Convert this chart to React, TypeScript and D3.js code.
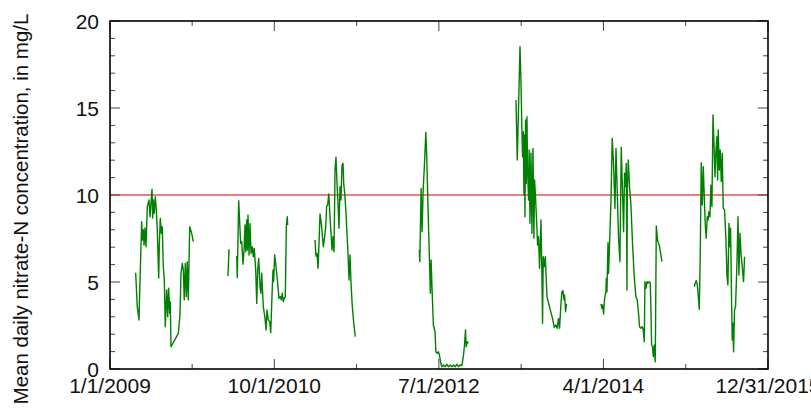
import React from "react";
import * as d3 from "d3";

// Mean daily nitrate-N concentration (mg/L); x = decimal year, y = value
const seg2009: [number, number][] = [
  [2009.273, 5.53], [2009.29, 3.58], [2009.309, 2.82], [2009.312, 3.68], [2009.337, 8.47],
  [2009.344, 7.41], [2009.354, 8.0], [2009.362, 7.13], [2009.372, 8.1], [2009.383, 7.03],
  [2009.397, 9.33], [2009.415, 9.71], [2009.426, 8.75], [2009.436, 9.54], [2009.447, 10.33],
  [2009.454, 8.68], [2009.461, 9.71], [2009.471, 8.95], [2009.482, 9.9], [2009.493, 9.14],
  [2009.503, 8.0], [2009.518, 5.23], [2009.524, 7.03], [2009.535, 8.66], [2009.546, 7.8],
  [2009.556, 8.18], [2009.567, 5.88], [2009.578, 5.11], [2009.588, 2.43], [2009.603, 4.54],
  [2009.614, 3.0], [2009.624, 4.64], [2009.635, 3.2], [2009.641, 3.87], [2009.649, 1.28],
  [2009.727, 2.05], [2009.745, 3.2], [2009.755, 5.5], [2009.769, 6.07], [2009.78, 5.69],
  [2009.79, 3.97], [2009.801, 6.07], [2009.812, 4.16], [2009.822, 6.17], [2009.833, 3.97],
  [2009.848, 8.18], [2009.869, 7.8], [2009.886, 7.32],
];
const seg2010a: [number, number][] = [[2010.255, 5.34], [2010.266, 6.88]];
const seg2010b: [number, number][] = [
  [2010.348, 6.49], [2010.354, 5.25], [2010.369, 9.67], [2010.39, 7.22], [2010.401, 7.32],
  [2010.415, 6.02], [2010.426, 6.84], [2010.436, 8.28], [2010.444, 6.74], [2010.454, 8.56],
  [2010.461, 6.84], [2010.468, 8.85], [2010.479, 6.55], [2010.489, 8.37], [2010.5, 6.65],
  [2010.514, 7.03], [2010.524, 6.45], [2010.535, 6.93], [2010.55, 5.69], [2010.561, 3.77],
  [2010.571, 5.69], [2010.582, 6.36], [2010.596, 4.73], [2010.606, 4.35], [2010.614, 5.5],
  [2010.631, 3.58], [2010.649, 2.91], [2010.66, 2.24], [2010.67, 3.39], [2010.684, 2.82],
  [2010.699, 2.72], [2010.71, 2.09], [2010.723, 4.16], [2010.734, 5.69], [2010.741, 5.02],
  [2010.752, 6.55], [2010.766, 5.88], [2010.784, 4.93], [2010.798, 4.06], [2010.812, 4.16],
  [2010.822, 3.97], [2010.833, 4.35], [2010.844, 3.87], [2010.854, 4.06], [2010.865, 4.16],
  [2010.876, 8.18], [2010.886, 8.75], [2010.89, 8.28],
];
const seg2011: [number, number][] = [
  [2011.181, 7.41], [2011.191, 6.49], [2011.202, 6.65], [2011.213, 5.79], [2011.223, 7.13],
  [2011.234, 8.91], [2011.248, 8.37], [2011.259, 7.7], [2011.269, 7.03], [2011.284, 7.6],
  [2011.295, 8.18], [2011.305, 9.37], [2011.316, 9.43], [2011.327, 10.06], [2011.337, 9.14],
  [2011.351, 7.8], [2011.362, 6.84], [2011.372, 7.6], [2011.383, 6.74], [2011.394, 11.44],
  [2011.404, 12.17], [2011.415, 10.67], [2011.426, 9.52], [2011.436, 8.09], [2011.447, 10.48],
  [2011.457, 9.71], [2011.468, 11.72], [2011.479, 11.82], [2011.486, 10.67], [2011.497, 10.1],
  [2011.511, 8.95], [2011.521, 7.8], [2011.532, 6.65], [2011.543, 5.11], [2011.553, 6.55],
  [2011.564, 4.93], [2011.578, 3.58], [2011.593, 2.63], [2011.61, 1.86],
];
const seg2012: [number, number][] = [
  [2012.29, 6.84], [2012.295, 6.17], [2012.309, 10.38], [2012.319, 7.89], [2012.33, 10.19],
  [2012.344, 11.72], [2012.359, 13.6], [2012.369, 12.11], [2012.386, 8.47], [2012.397, 6.36],
  [2012.407, 4.35], [2012.415, 6.26], [2012.426, 4.44], [2012.439, 2.53], [2012.457, 2.14],
  [2012.465, 0.99], [2012.479, 0.9], [2012.493, 0.99], [2012.503, 0.8], [2012.518, 0.33],
  [2012.529, 0.13], [2012.546, 0.23], [2012.564, 0.13], [2012.582, 0.27], [2012.599, 0.13],
  [2012.617, 0.23], [2012.635, 0.13], [2012.652, 0.23], [2012.67, 0.13], [2012.688, 0.27],
  [2012.705, 0.13], [2012.723, 0.23], [2012.741, 0.19], [2012.759, 0.8], [2012.769, 1.38],
  [2012.78, 2.24], [2012.787, 1.28], [2012.798, 1.57], [2012.809, 1.48],
];
const seg2013: [number, number][] = [
  [2013.316, 15.46], [2013.33, 12.01], [2013.359, 18.52], [2013.369, 16.61], [2013.38, 13.55],
  [2013.386, 12.2], [2013.394, 13.64], [2013.401, 10.0], [2013.407, 13.45], [2013.412, 8.75],
  [2013.418, 14.31], [2013.426, 10.67], [2013.433, 14.5], [2013.439, 11.63], [2013.45, 9.71],
  [2013.457, 12.59], [2013.465, 8.37], [2013.476, 12.4], [2013.486, 7.8], [2013.497, 12.68],
  [2013.507, 7.51], [2013.514, 10.86], [2013.524, 9.9], [2013.539, 8.09], [2013.546, 7.13],
  [2013.556, 7.6], [2013.567, 5.79], [2013.574, 7.03], [2013.582, 8.56], [2013.593, 5.11],
  [2013.599, 2.63], [2013.606, 6.45], [2013.617, 5.88], [2013.628, 6.45], [2013.646, 4.16],
  [2013.681, 3.39], [2013.705, 2.91], [2013.723, 2.39], [2013.741, 2.53], [2013.755, 2.34],
  [2013.769, 2.91], [2013.78, 2.34], [2013.795, 3.77], [2013.805, 4.44], [2013.816, 4.5],
  [2013.827, 3.97], [2013.833, 4.25], [2013.844, 3.29], [2013.854, 3.74],
];
const seg2014: [number, number][] = [
  [2014.22, 3.74], [2014.231, 3.49], [2014.237, 3.68], [2014.248, 3.16], [2014.259, 4.06],
  [2014.273, 4.44], [2014.277, 5.21], [2014.284, 4.44], [2014.295, 7.26], [2014.301, 5.5],
  [2014.312, 7.22], [2014.327, 9.71], [2014.34, 13.26], [2014.354, 11.82], [2014.369, 9.23],
  [2014.38, 12.68], [2014.394, 10.1], [2014.407, 7.6], [2014.422, 6.17], [2014.436, 12.74],
  [2014.45, 10.1], [2014.461, 7.89], [2014.471, 11.25], [2014.482, 10.48], [2014.489, 11.82],
  [2014.497, 4.54], [2014.5, 10.1], [2014.511, 12.01], [2014.524, 10.48], [2014.539, 9.43],
  [2014.556, 7.22], [2014.574, 5.31], [2014.592, 4.16], [2014.606, 3.97], [2014.62, 3.2],
  [2014.631, 2.43], [2014.646, 2.34], [2014.66, 2.43], [2014.67, 2.24], [2014.681, 1.57],
  [2014.688, 5.02], [2014.699, 4.64], [2014.71, 5.02], [2014.72, 4.93], [2014.734, 5.02],
  [2014.745, 4.93], [2014.752, 3.39], [2014.759, 1.38], [2014.769, 1.28], [2014.777, 0.71],
  [2014.787, 1.38], [2014.798, 0.42], [2014.809, 8.22], [2014.822, 7.41], [2014.844, 7.03],
  [2014.869, 6.17],
];
const seg2015: [number, number][] = [
  [2015.213, 4.73], [2015.223, 4.93], [2015.234, 5.08], [2015.245, 4.83], [2015.255, 4.25],
  [2015.266, 3.43], [2015.277, 6.74], [2015.287, 11.86], [2015.298, 9.43], [2015.309, 11.63],
  [2015.319, 9.9], [2015.33, 8.28], [2015.34, 7.51], [2015.351, 8.75], [2015.359, 8.56],
  [2015.369, 9.04], [2015.38, 8.75], [2015.39, 10.57], [2015.401, 9.33], [2015.412, 14.6],
  [2015.422, 13.06], [2015.433, 11.05], [2015.444, 12.59], [2015.454, 13.35], [2015.461, 10.86],
  [2015.468, 13.74], [2015.479, 11.44], [2015.489, 12.59], [2015.5, 10.77], [2015.511, 12.4],
  [2015.521, 9.23], [2015.535, 9.14], [2015.55, 7.41], [2015.561, 5.31], [2015.571, 4.83],
  [2015.582, 8.37], [2015.593, 7.03], [2015.599, 8.09], [2015.61, 3.77], [2015.617, 1.67],
  [2015.624, 2.63], [2015.631, 0.99], [2015.641, 3.39], [2015.652, 3.58], [2015.667, 6.07],
  [2015.678, 8.75], [2015.688, 5.4], [2015.699, 7.8], [2015.71, 6.65], [2015.72, 6.07],
  [2015.737, 5.02], [2015.748, 6.45],
];
const segments = [seg2009, seg2010a, seg2010b, seg2011, seg2012, seg2013, seg2014, seg2015];

const xTickDates = ["2009-01-01", "2010-10-01", "2012-07-01", "2014-04-01", "2015-12-31"];
const xTickLabels = ["1/1/2009", "10/1/2010", "7/1/2012", "4/1/2014", "12/31/2015"];
const yMajorTicks = [0, 5, 10, 15, 20];
const referenceLevel = 10;
const yLabel = "Mean daily nitrate-N concentration, in mg/L";

function decYear(y: number): Date {
  const yr = Math.floor(y);
  const a = Date.UTC(yr, 0, 1);
  const b = Date.UTC(yr + 1, 0, 1);
  return new Date(a + (y - yr) * (b - a));
}

const W = 811, H = 413;
const M = { left: 110, right: 768, top: 21, bottom: 369 };
const FONT = "Liberation Sans, Arial, sans-serif";

export default function App() {
  const majorDates = xTickDates.map((s) => new Date(s + "T00:00:00Z"));
  const x = d3.scaleUtc().domain([majorDates[0], majorDates[majorDates.length - 1]]).range([M.left, M.right]);
  const y = d3.scaleLinear().domain([0, 20]).range([M.bottom, M.top]);
  const minorDates = majorDates.slice(1).map((d, i) => new Date((d.getTime() + majorDates[i].getTime()) / 2));
  const yMinor = d3.range(0, 21, 1).filter((v) => v % 5 !== 0);
  const line = d3.line<[number, number]>().x((d) => x(decYear(d[0]))).y((d) => y(d[1]));
  const tickColor = "#444";
  return (
    <div style={{ position: "absolute", left: 0, top: 0 }}>
      <svg width={W} height={H} style={{ display: "block", background: "#fff" }}>
        <line x1={M.left} x2={M.right} y1={y(referenceLevel)} y2={y(referenceLevel)} stroke="#d80000" strokeWidth={1} />
        {segments.map((s, i) => (
          <path key={i} d={line(s) || ""} fill="none" stroke="#008000" strokeWidth={1.4} strokeLinejoin="round" />
        ))}
        {yMinor.map((v) => (
          <g key={"ym" + v}>
            <line x1={M.left} x2={M.left + 5} y1={y(v)} y2={y(v)} stroke={tickColor} strokeWidth={1} />
            <line x1={M.right} x2={M.right - 5} y1={y(v)} y2={y(v)} stroke={tickColor} strokeWidth={1} />
          </g>
        ))}
        {yMajorTicks.map((v) => (
          <g key={"yM" + v}>
            <line x1={M.left} x2={M.left + 10} y1={y(v)} y2={y(v)} stroke={tickColor} strokeWidth={1} />
            <line x1={M.right} x2={M.right - 10} y1={y(v)} y2={y(v)} stroke={tickColor} strokeWidth={1} />
            <text x={M.left - 11} y={y(v)} dy="0.36em" textAnchor="end" fontFamily={FONT} fontSize={21} fill="#111">
              {v}
            </text>
          </g>
        ))}
        {minorDates.map((d, i) => (
          <g key={"xm" + i}>
            <line x1={x(d)} x2={x(d)} y1={M.bottom} y2={M.bottom - 5} stroke={tickColor} strokeWidth={1} />
            <line x1={x(d)} x2={x(d)} y1={M.top} y2={M.top + 5} stroke={tickColor} strokeWidth={1} />
          </g>
        ))}
        {majorDates.map((d, i) => (
          <g key={"xM" + i}>
            <line x1={x(d)} x2={x(d)} y1={M.bottom} y2={M.bottom - 10} stroke={tickColor} strokeWidth={1} />
            <line x1={x(d)} x2={x(d)} y1={M.top} y2={M.top + 10} stroke={tickColor} strokeWidth={1} />
            <text x={x(d)} y={M.bottom + 24} textAnchor="middle" fontFamily={FONT} fontSize={21} fill="#111">
              {xTickLabels[i]}
            </text>
          </g>
        ))}
        <rect x={M.left} y={M.top} width={M.right - M.left} height={M.bottom - M.top} fill="none" stroke="#000" strokeWidth={1.6} />
        <text
          transform={`translate(${21},${209}) rotate(-90)`}
          textAnchor="middle"
          dy="0.35em"
          fontFamily={FONT}
          fontSize={20.5}
          fill="#111"
        >
          {yLabel}
        </text>
      </svg>
    </div>
  );
}
